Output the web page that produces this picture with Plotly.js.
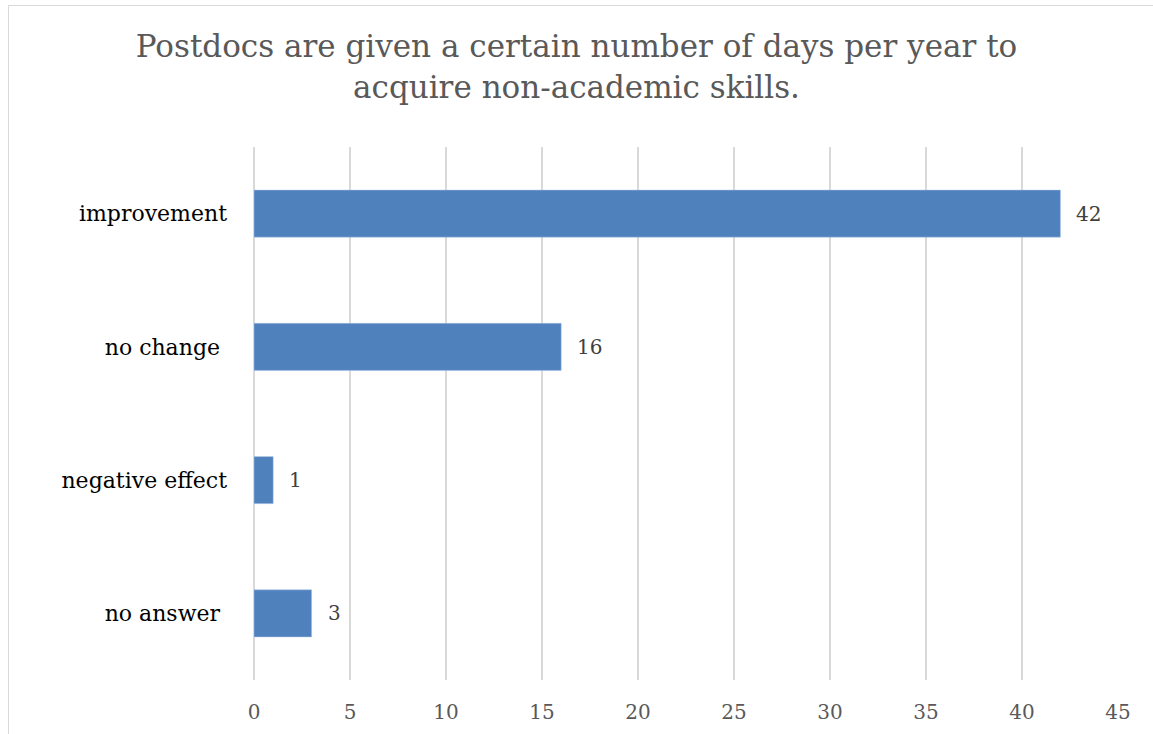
<!DOCTYPE html>
<html>
<head>
<meta charset="utf-8">
<script src="https://cdn.plot.ly/plotly-3.0.1.min.js"></script>
<style>
  html, body { margin: 0; padding: 0; background: #ffffff; overflow: hidden; }
  #wrap { position: relative; width: 1153px; height: 734px; }
  #chart { position: absolute; left: 0; top: 0; width: 1153px; height: 734px; }
  #frame { position: absolute; left: 8px; top: 5px; width: 1160px; height: 740px;
           border: 1px solid #d9d9d9; pointer-events: none; box-sizing: border-box; }
</style>
</head>
<body>
<div id="wrap">
  <div id="chart"></div>
  <div id="frame"></div>
</div>
<script>
const categories = ["improvement", "no change\u00a0", "negative effect", "no answer\u00a0"];
const counts = [42, 16, 1, 3];
const xTickValues = [0, 5, 10, 15, 20, 25, 30, 35, 40, 45];
const chartTitle = "Postdocs are given a certain number of days per year to<br>acquire non-academic skills.";

const serif = "'DejaVu Serif', 'Liberation Serif', serif";

const trace = {
  type: "bar",
  orientation: "h",
  y: categories,
  x: counts,
  marker: { color: "#4f81bd", line: { color: "#a9c0e0", width: 0.5 } },
  hoverinfo: "skip"
};

const labelAnnotations = counts.map((v, i) => ({
  x: v, y: categories[i], xref: "x", yref: "y",
  text: String(v), showarrow: false, xanchor: "left", yanchor: "middle",
  xshift: 14, font: { family: serif, size: 20, color: "#404040" }
}));

const layout = {
  width: 1153, height: 734,
  margin: { l: 254, r: 35, t: 147, b: 54, pad: 0 },
  paper_bgcolor: "#ffffff", plot_bgcolor: "#ffffff",
  showlegend: false,
  bargap: 0.647,
  title: {
    text: chartTitle,
    x: 0.5, xref: "container", xanchor: "center",
    y: 0.922, yref: "container", yanchor: "top",
    font: { family: serif, size: 31, color: "#595959" }
  },
  xaxis: {
    range: [0, 45],
    tickvals: xTickValues,
    ticktext: xTickValues.map(String),
    showgrid: true, gridcolor: "#d9d9d9", gridwidth: 1.5,
    zeroline: true, zerolinecolor: "#d9d9d9", zerolinewidth: 1.5,
    showline: false, ticks: "",
    ticklabelstandoff: 18,
    tickfont: { family: serif, size: 20, color: "#595959" },
    fixedrange: true
  },
  yaxis: {
    type: "category",
    categoryorder: "array", categoryarray: categories,
    autorange: "reversed",
    showgrid: false, zeroline: false, showline: false, ticks: "",
    ticklabelstandoff: 26,
    tickfont: { family: serif, size: 22, color: "#000000" },
    fixedrange: true
  },
  annotations: labelAnnotations
};

Plotly.newPlot("chart", [trace], layout, { displayModeBar: false, staticPlot: true });
</script>
</body>
</html>
